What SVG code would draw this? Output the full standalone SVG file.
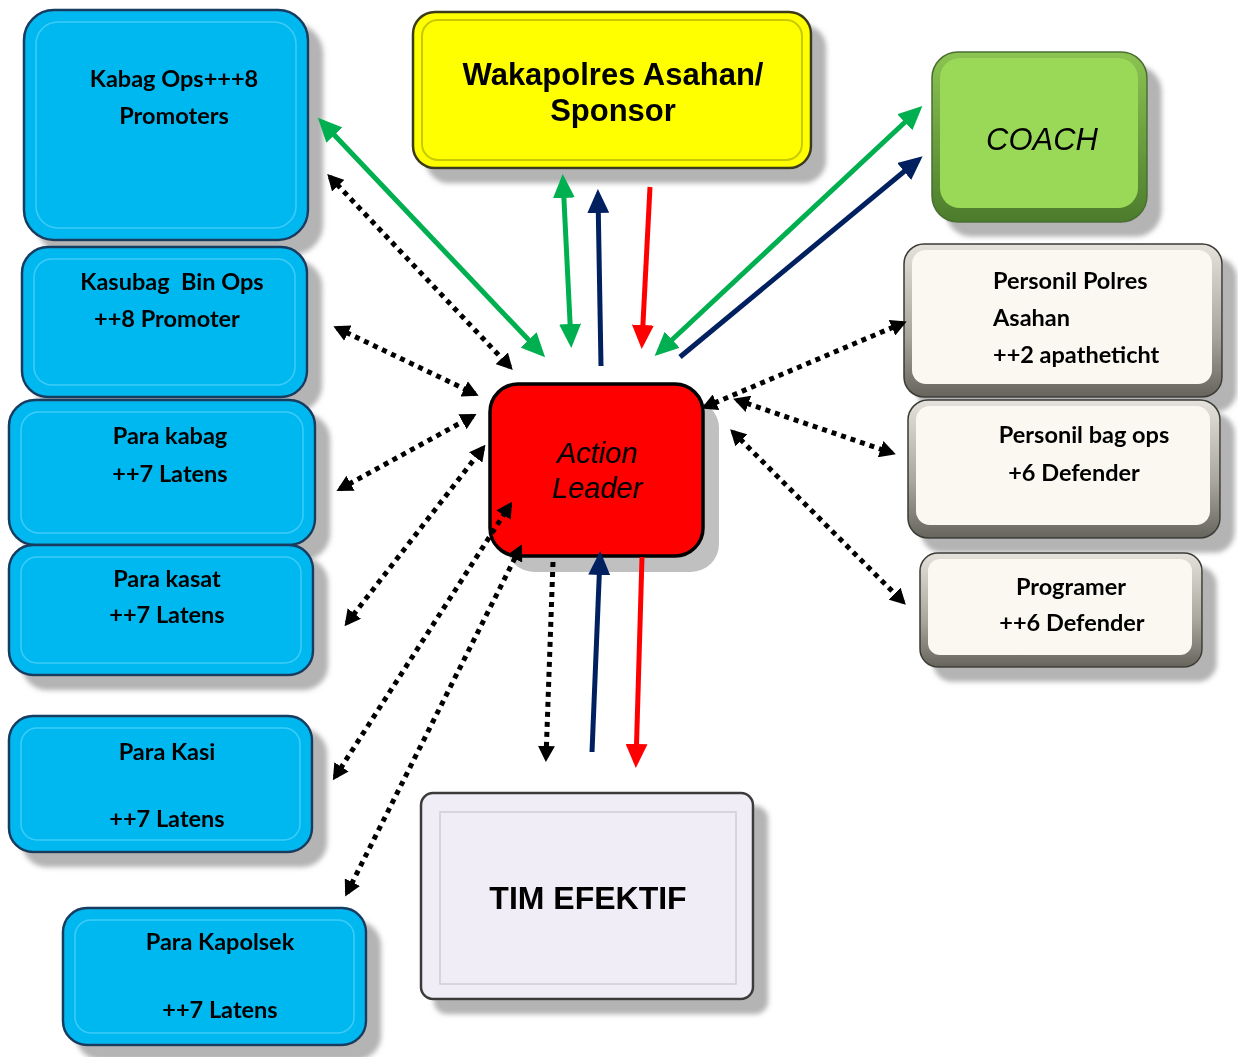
<svg xmlns="http://www.w3.org/2000/svg" width="1238" height="1057" viewBox="0 0 1238 1057">
<style>
.t{font-family:Lato,"Open Sans","Liberation Sans",sans-serif;font-weight:bold;font-size:23.5px;fill:#000}
.a{font-family:"Liberation Sans",Arial,sans-serif;fill:#000}
.blue{fill:#06b8f0;stroke:#173c60;stroke-width:2.5}
.blueIn{fill:none;stroke:#3cccf8;stroke-width:1.5}
.dot{fill:none;stroke:#000;stroke-width:5;stroke-dasharray:5 5}
.sg{fill:none;stroke:#00b050;stroke-width:5}
.sn{fill:none;stroke:#002060;stroke-width:5}
.sr{fill:none;stroke:#ff0000;stroke-width:5}
</style>
<defs>
<filter id="sh" x="-10%" y="-10%" width="130%" height="130%">
<feGaussianBlur in="SourceAlpha" stdDeviation="2.5"/>
<feOffset dx="14" dy="14" result="o"/>
<feFlood flood-color="#9a9a9a" flood-opacity="0.75"/>
<feComposite in2="o" operator="in"/>
<feMerge><feMergeNode/><feMergeNode in="SourceGraphic"/></feMerge>
</filter>
<linearGradient id="gGray" x1="0" y1="0" x2="0" y2="1">
<stop offset="0" stop-color="#e4e2da"/><stop offset="0.6" stop-color="#a8a69c"/><stop offset="1" stop-color="#66645c"/>
</linearGradient>
<linearGradient id="gGreen" x1="0" y1="0" x2="0" y2="1">
<stop offset="0" stop-color="#8cc452"/><stop offset="1" stop-color="#4c7c2c"/>
</linearGradient>
<marker id="hg" markerUnits="userSpaceOnUse" viewBox="0 0 24 22" markerWidth="24" markerHeight="22" refX="18" refY="11" orient="auto-start-reverse"><path d="M0,0 L24,11 L0,22 z" fill="#00b050"/></marker>
<marker id="hn" markerUnits="userSpaceOnUse" viewBox="0 0 24 22" markerWidth="24" markerHeight="22" refX="18" refY="11" orient="auto-start-reverse"><path d="M0,0 L24,11 L0,22 z" fill="#002060"/></marker>
<marker id="hr" markerUnits="userSpaceOnUse" viewBox="0 0 24 22" markerWidth="24" markerHeight="22" refX="18" refY="11" orient="auto-start-reverse"><path d="M0,0 L24,11 L0,22 z" fill="#ff0000"/></marker>
<marker id="hb" markerUnits="userSpaceOnUse" viewBox="0 0 16 17" markerWidth="16" markerHeight="17" refX="12" refY="8.5" orient="auto-start-reverse"><path d="M0,0 L16,8.5 L0,17 z" fill="#000"/></marker>
</defs>
<rect width="1238" height="1057" fill="#fff"/>

<g id="kabag-ops" filter="url(#sh)">
<rect class="blue" x="24" y="10" width="284" height="230" rx="30"/>
<rect class="blueIn" x="36" y="22" width="260" height="206" rx="22"/>
<text class="t" x="174" y="87" text-anchor="middle">Kabag Ops+++8</text>
<text class="t" x="174" y="124" text-anchor="middle">Promoters</text>
</g>
<g id="kasubag" filter="url(#sh)">
<rect class="blue" x="22" y="247" width="285" height="150" rx="26"/>
<rect class="blueIn" x="34" y="259" width="261" height="126" rx="18"/>
<text class="t" x="172" y="290" text-anchor="middle" xml:space="preserve">Kasubag  Bin Ops</text>
<text class="t" x="167" y="327" text-anchor="middle">++8 Promoter</text>
</g>
<g id="para-kabag" filter="url(#sh)">
<rect class="blue" x="9" y="400" width="306" height="145" rx="26"/>
<rect class="blueIn" x="21" y="412" width="282" height="121" rx="18"/>
<text class="t" x="170" y="444" text-anchor="middle">Para kabag</text>
<text class="t" x="170" y="482" text-anchor="middle">++7 Latens</text>
</g>
<g id="para-kasat" filter="url(#sh)">
<rect class="blue" x="9" y="545" width="304" height="130" rx="24"/>
<rect class="blueIn" x="21" y="557" width="280" height="106" rx="16"/>
<text class="t" x="167" y="587" text-anchor="middle">Para kasat</text>
<text class="t" x="167" y="623" text-anchor="middle">++7 Latens</text>
</g>
<g id="para-kasi" filter="url(#sh)">
<rect class="blue" x="9" y="716" width="303" height="136" rx="24"/>
<rect class="blueIn" x="21" y="728" width="279" height="112" rx="16"/>
<text class="t" x="167" y="760" text-anchor="middle">Para Kasi</text>
<text class="t" x="167" y="827" text-anchor="middle">++7 Latens</text>
</g>
<g id="para-kapolsek" filter="url(#sh)">
<rect class="blue" x="63" y="908" width="303" height="137" rx="24"/>
<rect class="blueIn" x="75" y="920" width="279" height="113" rx="16"/>
<text class="t" x="220" y="950" text-anchor="middle">Para Kapolsek</text>
<text class="t" x="220" y="1018" text-anchor="middle">++7 Latens</text>
</g>

<g id="wakapolres" filter="url(#sh)">
<rect x="413" y="12" width="398" height="156" rx="22" fill="#ffff00" stroke="#3a3a1a" stroke-width="2.5"/>
<rect x="422" y="20" width="380" height="140" rx="16" fill="none" stroke="#c9c900" stroke-width="2"/>
<text class="a" x="613" y="85" font-size="31" font-weight="bold" text-anchor="middle">Wakapolres Asahan/</text>
<text class="a" x="613" y="121" font-size="31" font-weight="bold" text-anchor="middle">Sponsor</text>
</g>

<g id="coach" filter="url(#sh)">
<rect x="932" y="52" width="215" height="170" rx="26" fill="url(#gGreen)" stroke="#4a6e30" stroke-width="1.5"/>
<rect x="940" y="58" width="198" height="150" rx="20" fill="#9ad858"/>
<text class="a" x="1042" y="150" font-size="31" font-style="italic" text-anchor="middle">COACH</text>
</g>

<g id="personil-polres" filter="url(#sh)">
<rect x="904" y="244" width="318" height="153" rx="20" fill="url(#gGray)" stroke="#3a3a36" stroke-width="1.5"/>
<rect x="912" y="250" width="300" height="134" rx="14" fill="#faf8f0"/>
<text class="t" x="993" y="289">Personil Polres</text>
<text class="t" x="993" y="326">Asahan</text>
<text class="t" x="993" y="363">++2 apatheticht</text>
</g>
<g id="personil-bag-ops" filter="url(#sh)">
<rect x="908" y="400" width="312" height="138" rx="20" fill="url(#gGray)" stroke="#3a3a36" stroke-width="1.5"/>
<rect x="916" y="406" width="294" height="119" rx="14" fill="#faf8f0"/>
<text class="t" x="1084" y="443" text-anchor="middle">Personil bag ops</text>
<text class="t" x="1074" y="481" text-anchor="middle">+6 Defender</text>
</g>
<g id="programer" filter="url(#sh)">
<rect x="920" y="553" width="282" height="114" rx="18" fill="url(#gGray)" stroke="#3a3a36" stroke-width="1.5"/>
<rect x="928" y="559" width="264" height="96" rx="12" fill="#faf8f0"/>
<text class="t" x="1071" y="595" text-anchor="middle">Programer</text>
<text class="t" x="1072" y="631" text-anchor="middle">++6 Defender</text>
</g>

<g id="tim-efektif" filter="url(#sh)">
<rect x="421" y="793" width="332" height="206" rx="12" fill="#f1edf7" stroke="#3a3a3a" stroke-width="2.5"/>
<rect x="440" y="812" width="296" height="172" fill="none" stroke="#d0ccd6" stroke-width="1.5"/>
<text class="a" x="588" y="909" font-size="32" font-weight="bold" text-anchor="middle">TIM EFEKTIF</text>
</g>

<g id="action-leader">
<rect x="506" y="400" width="213" height="172" rx="28" fill="#c0c0c0"/>
<rect x="490" y="384" width="213" height="172" rx="28" fill="#ff0000" stroke="#000" stroke-width="3.5"/>
<text class="a" x="597" y="463" font-size="29" font-style="italic" text-anchor="middle">Action</text>
<text class="a" x="597" y="498" font-size="29" font-style="italic" text-anchor="middle">Leader</text>
</g>

<g id="connectors">
<line class="sg" x1="322" y1="122" x2="541" y2="353" marker-start="url(#hg)" marker-end="url(#hg)"/>
<line class="sg" x1="563" y1="180" x2="571" y2="342" marker-start="url(#hg)" marker-end="url(#hg)"/>
<line class="sn" x1="601" y1="366" x2="598" y2="195" marker-end="url(#hn)"/>
<line class="sr" x1="650" y1="187" x2="642" y2="343" marker-end="url(#hr)"/>
<line class="sg" x1="918" y1="110" x2="659" y2="352" marker-start="url(#hg)" marker-end="url(#hg)"/>
<line class="sn" x1="680" y1="357" x2="918" y2="160" marker-end="url(#hn)"/>
<line class="sn" x1="592" y1="752" x2="600" y2="557" marker-end="url(#hn)"/>
<line class="sr" x1="642" y1="557" x2="636" y2="762" marker-end="url(#hr)"/>
<line class="dot" x1="330" y1="177" x2="510" y2="367" marker-start="url(#hb)" marker-end="url(#hb)"/>
<line class="dot" x1="337" y1="328" x2="475" y2="394" marker-start="url(#hb)" marker-end="url(#hb)"/>
<line class="dot" x1="340" y1="489" x2="473" y2="416" marker-start="url(#hb)" marker-end="url(#hb)"/>
<line class="dot" x1="347" y1="623" x2="483" y2="448" marker-start="url(#hb)" marker-end="url(#hb)"/>
<line class="dot" x1="335" y1="777" x2="510" y2="505" marker-start="url(#hb)" marker-end="url(#hb)"/>
<line class="dot" x1="347" y1="893" x2="520" y2="548" marker-start="url(#hb)" marker-end="url(#hb)"/>
<line class="dot" x1="553" y1="562" x2="546" y2="758" marker-end="url(#hb)"/>
<line class="dot" x1="705" y1="407" x2="903" y2="323" marker-start="url(#hb)" marker-end="url(#hb)"/>
<line class="dot" x1="737" y1="400" x2="892" y2="453" marker-start="url(#hb)" marker-end="url(#hb)"/>
<line class="dot" x1="733" y1="432" x2="903" y2="602" marker-start="url(#hb)" marker-end="url(#hb)"/>
</g>
</svg>
